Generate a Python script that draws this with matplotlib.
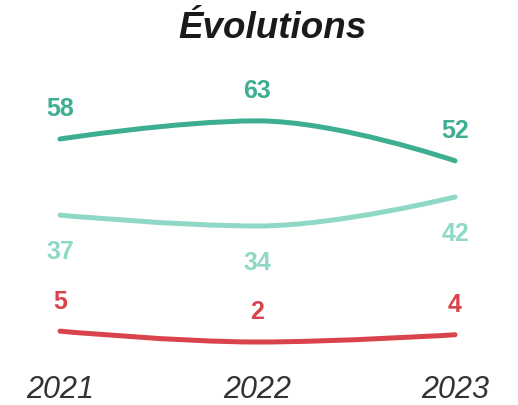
import numpy as np
import matplotlib
matplotlib.use("Agg")
import matplotlib.pyplot as plt
from matplotlib.path import Path
from matplotlib.patches import PathPatch

plt.rcParams['font.family'] = ['Liberation Sans', 'DejaVu Sans']

# data
years = [2021, 2022, 2023]
dark = [58, 63, 52]
light = [37, 34, 42]
red = [5, 2, 4]

colors = ["#3dae91", "#8fd8c6", "#d9434c"]
# label offsets in points (positive = above the line)
offsets = [22, -26, 22]


def spline_path(xs, ys, smoothing=1.5):
    # highcharts-like spline through the points
    n = len(xs)
    denom = smoothing + 1
    rc = [None] * n
    verts = [(xs[0], ys[0])]
    codes = [Path.MOVETO]
    for i in range(1, n):
        px, py = xs[i], ys[i]
        lx, ly = px, py
        if i < n - 1:
            ax_, ay_ = xs[i - 1], ys[i - 1]
            nx, ny = xs[i + 1], ys[i + 1]
            lx = (smoothing * px + ax_) / denom
            ly = (smoothing * py + ay_) / denom
            rx = (smoothing * px + nx) / denom
            ry = (smoothing * py + ny) / denom
            corr = (ry - ly) * (rx - px) / (rx - lx) + py - ry
            ly += corr
            ry += corr
            if ly > ay_ and ly > py:
                ly = max(ay_, py); ry = 2 * py - ly
            elif ly < ay_ and ly < py:
                ly = min(ay_, py); ry = 2 * py - ly
            if ry > ny and ry > py:
                ry = max(ny, py); ly = 2 * py - ry
            elif ry < ny and ry < py:
                ry = min(ny, py); ly = 2 * py - ry
            rc[i] = (rx, ry)
        prev = rc[i - 1] if rc[i - 1] is not None else (xs[i - 1], ys[i - 1])
        verts += [prev, (lx, ly), (px, py)]
        codes += [Path.CURVE4] * 3
    return Path(verts, codes)


fig = plt.figure(figsize=(5.18, 4.06), dpi=100)
ax = fig.add_axes([60 / 518, (406 - 343) / 406, 395 / 518, 203 / 406])
ax.set_xlim(2021, 2023)
ax.set_ylim(2, 58)

for series, col, off in zip([dark, light, red], colors, offsets):
    patch = PathPatch(spline_path(years, series), facecolor="none", edgecolor=col,
                      lw=3.6, capstyle="round", clip_on=False)
    ax.add_patch(patch)
    for x, v in zip(years, series):
        ax.annotate(str(v), (x, v), xytext=(0, off), textcoords="offset points",
                    ha="center", va="center", color=col, fontsize=18,
                    fontweight="bold", annotation_clip=False)

ax.set_xticks(years)
ax.set_xticklabels([str(y) for y in years], fontsize=22, style="italic", color="#333333")
ax.tick_params(axis="x", length=0, pad=23)
ax.set_yticks([])
for s in ax.spines.values():
    s.set_visible(False)

fig.text(272 / 518, 1 - 28 / 406, "Évolutions", ha="center", va="center",
         fontsize=26.5, fontweight="bold", style="italic", color="#1a1a1a")

fig.savefig("out.png", dpi=100)
